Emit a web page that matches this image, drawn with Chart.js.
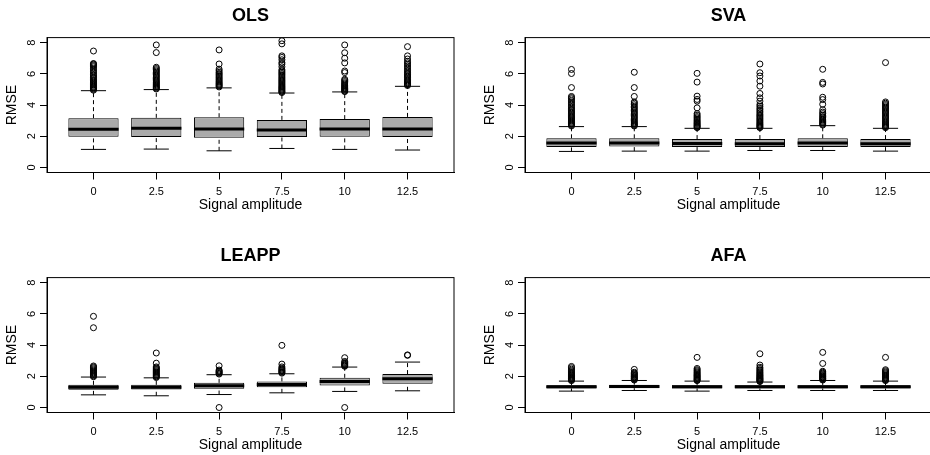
<!DOCTYPE html>
<html lang="en">
<head>
<meta charset="UTF-8">
<title>RMSE by signal amplitude</title>
<style>
  html, body { margin: 0; padding: 0; background: #fff; overflow: hidden; }
  body { width: 930px; height: 455px; position: relative; }
  .panel { position: absolute; width: 465px; height: 215px; }
</style>
</head>
<body>
  <div class="panel" style="left:0;top:0"><canvas id="olsChart"></canvas></div>
  <div class="panel" style="left:478px;top:0"><canvas id="svaChart"></canvas></div>
  <div class="panel" style="left:0;top:240px"><canvas id="leappChart"></canvas></div>
  <div class="panel" style="left:478px;top:240px"><canvas id="afaChart"></canvas></div>

<script src="https://cdn.jsdelivr.net/npm/chart.js"></script>
<script>
  // categories and ticks
  var amplitudes = ["0", "2.5", "5", "7.5", "10", "12.5"];
  var yTicks = [0, 2, 4, 6, 8];

  // OLS
  var olsLow = [1.16, 1.18, 1.07, 1.22, 1.16, 1.12];
  var olsQ1 = [1.97, 1.95, 1.91, 1.95, 1.97, 1.95];
  var olsMedian = [2.45, 2.52, 2.47, 2.40, 2.47, 2.47];
  var olsQ3 = [3.16, 3.18, 3.22, 3.05, 3.10, 3.24];
  var olsHigh = [4.92, 4.99, 5.10, 4.77, 4.84, 5.20];
  var olsOutliers = [
    [4.95, 5.0, 5.05, 5.1, 5.15, 5.2, 5.27, 5.33, 5.4, 5.47, 5.55, 5.62, 5.7, 5.78, 5.86, 5.95, 6.05, 6.15, 6.25, 6.35, 6.45, 6.52, 6.58, 6.63, 6.66, 7.46],
    [5.03, 5.08, 5.13, 5.18, 5.24, 5.3, 5.36, 5.42, 5.48, 5.55, 5.62, 5.7, 5.78, 5.86, 5.94, 6.02, 6.1, 6.18, 6.26, 6.34, 6.42, 7.36, 7.85],
    [5.16, 5.22, 5.28, 5.34, 5.4, 5.47, 5.54, 5.62, 5.7, 5.78, 5.86, 5.94, 6.02, 6.1, 6.2, 6.3, 6.63, 7.53],
    [4.8, 4.85, 4.9, 4.96, 5.02, 5.08, 5.14, 5.2, 5.27, 5.34, 5.41, 5.48, 5.55, 5.62, 5.7, 5.78, 5.86, 5.94, 6.02, 6.1, 6.18, 6.26, 6.45, 6.62, 6.72, 6.9, 7.05, 7.15, 7.92, 8.12],
    [4.86, 4.9, 4.95, 5.0, 5.05, 5.1, 5.16, 5.22, 5.28, 5.35, 5.42, 5.5, 5.58, 5.65, 6.08, 6.18, 6.7, 7.0, 7.35, 7.85],
    [5.25, 5.3, 5.36, 5.42, 5.48, 5.55, 5.62, 5.7, 5.78, 5.86, 5.94, 6.02, 6.1, 6.2, 6.3, 6.4, 6.5, 6.6, 6.7, 6.8, 6.95, 7.15, 7.74]
  ];

  // SVA
  var svaLow = [1.03, 1.05, 1.05, 1.09, 1.09, 1.05];
  var svaQ1 = [1.32, 1.35, 1.31, 1.31, 1.31, 1.31];
  var svaMedian = [1.57, 1.57, 1.53, 1.52, 1.57, 1.52];
  var svaQ3 = [1.87, 1.87, 1.82, 1.82, 1.87, 1.82];
  var svaHigh = [2.62, 2.62, 2.51, 2.51, 2.68, 2.51];
  var svaOutliers = [
    [2.66, 2.72, 2.78, 2.84, 2.9, 2.97, 3.04, 3.11, 3.18, 3.25, 3.32, 3.4, 3.48, 3.56, 3.64, 3.72, 3.8, 3.9, 4.0, 4.1, 4.2, 4.3, 4.4, 4.48, 4.55, 5.12, 6.02, 6.28],
    [2.66, 2.72, 2.78, 2.85, 2.92, 3.0, 3.08, 3.16, 3.24, 3.32, 3.4, 3.48, 3.56, 3.65, 3.74, 3.83, 3.92, 4.02, 4.12, 4.2, 4.55, 5.12, 6.1],
    [2.55, 2.6, 2.65, 2.7, 2.76, 2.82, 2.88, 2.95, 3.02, 3.1, 3.18, 3.26, 3.35, 3.45, 3.82, 4.25, 4.36, 4.57, 5.47, 6.03],
    [2.55, 2.6, 2.66, 2.72, 2.78, 2.85, 2.92, 3.0, 3.08, 3.16, 3.24, 3.32, 3.4, 3.5, 3.6, 3.7, 3.8, 3.92, 4.03, 4.25, 4.46, 4.74, 5.21, 5.54, 5.86, 6.07, 6.63],
    [2.72, 2.78, 2.84, 2.9, 2.96, 3.03, 3.1, 3.18, 3.26, 3.35, 3.45, 3.55, 3.7, 4.05, 4.35, 4.5, 5.35, 5.45, 6.29],
    [2.55, 2.6, 2.66, 2.72, 2.78, 2.85, 2.92, 3.0, 3.08, 3.16, 3.24, 3.32, 3.4, 3.48, 3.56, 3.64, 3.72, 3.8, 3.88, 3.96, 4.04, 4.12, 4.2, 6.72]
  ];

  // LEAPP
  var leappLow = [0.81, 0.75, 0.83, 0.94, 1.03, 1.07];
  var leappQ1 = [1.13, 1.16, 1.20, 1.30, 1.41, 1.52];
  var leappMedian = [1.30, 1.30, 1.39, 1.48, 1.67, 1.84];
  var leappQ3 = [1.45, 1.45, 1.58, 1.67, 1.90, 2.14];
  var leappHigh = [1.95, 1.90, 2.10, 2.16, 2.59, 2.91];
  var leappOutliers = [
    [1.97, 2.02, 2.07, 2.12, 2.17, 2.22, 2.28, 2.34, 2.4, 2.47, 2.54, 2.6, 2.66, 5.11, 5.84],
    [1.92, 1.97, 2.02, 2.07, 2.12, 2.18, 2.24, 2.3, 2.36, 2.42, 2.48, 2.54, 2.6, 2.84, 3.49],
    [0.0, 2.14, 2.19, 2.24, 2.29, 2.34, 2.4, 2.67],
    [2.2, 2.25, 2.3, 2.35, 2.4, 2.46, 2.52, 2.6, 2.78, 3.98],
    [0.0, 2.64, 2.68, 2.72, 2.77, 2.82, 2.88, 2.95, 3.19],
    [3.34, 3.37]
  ];

  // AFA
  var afaLow = [1.05, 1.09, 1.05, 1.09, 1.09, 1.09];
  var afaQ1 = [1.22, 1.24, 1.22, 1.22, 1.22, 1.22];
  var afaMedian = [1.33, 1.35, 1.33, 1.33, 1.33, 1.33];
  var afaQ3 = [1.43, 1.46, 1.43, 1.43, 1.43, 1.43];
  var afaHigh = [1.69, 1.73, 1.69, 1.63, 1.73, 1.69];
  var afaOutliers = [
    [1.72, 1.76, 1.8, 1.84, 1.88, 1.92, 1.97, 2.02, 2.07, 2.12, 2.18, 2.24, 2.3, 2.38, 2.46, 2.55, 2.63],
    [1.76, 1.8, 1.84, 1.88, 1.92, 1.96, 2.0, 2.05, 2.1, 2.15, 2.2, 2.26, 2.44],
    [1.72, 1.76, 1.8, 1.85, 1.9, 1.95, 2.0, 2.05, 2.1, 2.16, 2.22, 2.28, 2.35, 2.42, 2.5, 3.21],
    [1.66, 1.7, 1.74, 1.78, 1.82, 1.86, 1.9, 1.95, 2.0, 2.05, 2.1, 2.16, 2.22, 2.28, 2.35, 2.42, 2.5, 2.58, 2.72, 3.44],
    [1.76, 1.8, 1.84, 1.88, 1.92, 1.96, 2.0, 2.05, 2.1, 2.15, 2.2, 2.26, 2.32, 2.82, 3.53],
    [1.72, 1.76, 1.8, 1.85, 1.9, 1.95, 2.0, 2.05, 2.1, 2.16, 2.22, 2.28, 2.35, 2.42, 3.21]
  ];

  Chart.defaults.font.family = "'Liberation Sans', Arial, sans-serif";
  Chart.defaults.color = "#000";

  // box around the plot region, like R's box()
  var frame = {
    id: "frame",
    afterDraw: function (chart) {
      var a = chart.chartArea;
      var ctx = chart.ctx;
      ctx.save();
      ctx.strokeStyle = "#000";
      ctx.lineWidth = 1;
      ctx.strokeRect(a.left, a.top, a.right - a.left, a.bottom - a.top);
      ctx.restore();
    }
  };

  function makeBoxChart(id, title, low, q1, median, q3, high, outliers) {
    var boxes = [];
    var whiskers = [];
    var caps = [];
    var medians = [];
    var points = [];

    for (var i = 0; i < amplitudes.length; i++) {
      var x = i + 1;
      boxes.push({ x: x, y: [q1[i], q3[i]] });
      whiskers.push({ x: x, y: q3[i] }, { x: x, y: high[i] }, { x: x, y: null });
      whiskers.push({ x: x, y: low[i] }, { x: x, y: q1[i] }, { x: x, y: null });
      caps.push({ x: x - 0.2, y: high[i] }, { x: x + 0.2, y: high[i] }, { x: x, y: null });
      caps.push({ x: x - 0.2, y: low[i] }, { x: x + 0.2, y: low[i] }, { x: x, y: null });
      medians.push({ x: x - 0.4, y: median[i] }, { x: x + 0.4, y: median[i] }, { x: x, y: null });
      outliers[i].forEach(function (v) {
        points.push({ x: x, y: v });
      });
    }

    new Chart(document.getElementById(id), {
      type: "bar",
      data: {
        datasets: [
          {
            data: boxes,
            backgroundColor: "#aaaaaa",
            borderColor: "#000",
            borderWidth: 1,
            borderSkipped: false,
            barPercentage: 0.8,
            categoryPercentage: 1,
            order: 4
          },
          {
            type: "line",
            data: whiskers,
            borderColor: "#000",
            borderWidth: 1,
            borderDash: [4, 3],
            pointRadius: 0,
            spanGaps: false,
            order: 3
          },
          {
            type: "line",
            data: caps,
            borderColor: "#000",
            borderWidth: 1,
            pointRadius: 0,
            spanGaps: false,
            order: 2
          },
          {
            type: "line",
            data: points,
            showLine: false,
            pointRadius: 3,
            pointBorderWidth: 1,
            pointBorderColor: "#000",
            pointBackgroundColor: "rgba(0,0,0,0)",
            order: 1
          },
          {
            type: "line",
            data: medians,
            borderColor: "#000",
            borderWidth: 3,
            borderCapStyle: "butt",
            pointRadius: 0,
            spanGaps: false,
            order: 0
          }
        ]
      },
      options: {
        responsive: true,
        maintainAspectRatio: false,
        animation: false,
        events: [],
        layout: { padding: { left: 0, right: 11, top: 0, bottom: 0 } },
        plugins: {
          legend: { display: false },
          tooltip: { enabled: false },
          title: {
            display: true,
            text: title,
            fullSize: false,
            color: "#000",
            font: { size: 18, weight: "bold" },
            padding: { top: 5, bottom: 11 }
          }
        },
        scales: {
          x: {
            type: "linear",
            min: 0.26,
            max: 6.74,
            offset: false,
            afterBuildTicks: function (s) {
              s.ticks = amplitudes.map(function (a, i) { return { value: i + 1 }; });
            },
            afterFit: function (s) { s.height = 42.5; },
            ticks: {
              autoSkip: false,
              maxRotation: 0,
              minRotation: 0,
              padding: 6,
              font: { size: 11 },
              callback: function (v, i) { return amplitudes[i]; }
            },
            grid: { offset: false, drawOnChartArea: false, tickLength: 7, color: "#000" },
            border: { color: "#000" },
            title: {
              display: true,
              text: "Signal amplitude",
              font: { size: 14 },
              padding: { top: 0, bottom: 1 }
            }
          },
          y: {
            min: -0.32,
            max: 8.32,
            afterBuildTicks: function (s) {
              s.ticks = yTicks.map(function (v) { return { value: v }; });
            },
            afterFit: function (s) { s.width = 47; },
            ticks: {
              minRotation: 90,
              maxRotation: 90,
              crossAlign: "center",
              padding: 5,
              font: { size: 11 }
            },
            grid: { drawOnChartArea: false, tickLength: 7, color: "#000" },
            border: { color: "#000" },
            title: {
              display: true,
              text: "RMSE",
              font: { size: 14 },
              padding: { top: 4, bottom: 0 }
            }
          }
        }
      },
      plugins: [frame]
    });
  }

  makeBoxChart("olsChart", "OLS", olsLow, olsQ1, olsMedian, olsQ3, olsHigh, olsOutliers);
  makeBoxChart("svaChart", "SVA", svaLow, svaQ1, svaMedian, svaQ3, svaHigh, svaOutliers);
  makeBoxChart("leappChart", "LEAPP", leappLow, leappQ1, leappMedian, leappQ3, leappHigh, leappOutliers);
  makeBoxChart("afaChart", "AFA", afaLow, afaQ1, afaMedian, afaQ3, afaHigh, afaOutliers);
</script>
</body>
</html>
